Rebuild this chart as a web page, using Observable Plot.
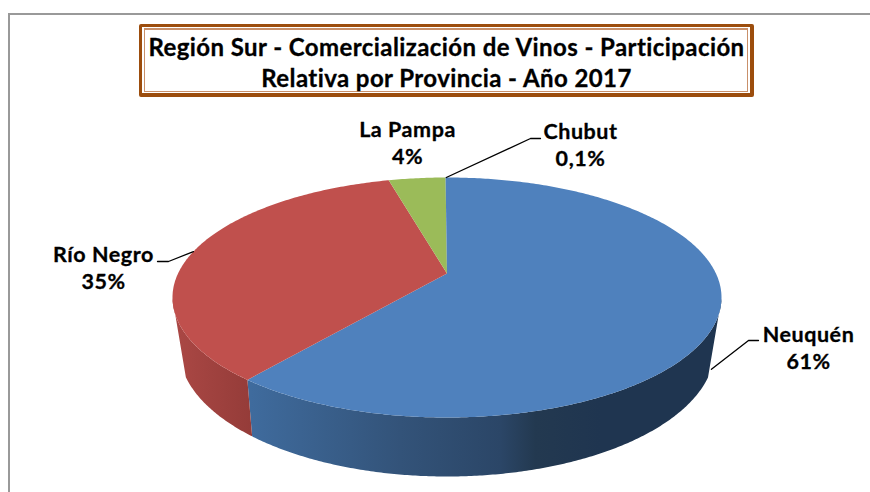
<!DOCTYPE html>
<html lang="es">
<head>
<meta charset="utf-8">
<style>
html,body{margin:0;padding:0;background:#fff;width:870px;height:492px;overflow:hidden}
#wrap{position:relative;width:870px;height:492px;overflow:hidden}
#wrap svg{position:absolute;left:0;top:0;background:transparent}
#frame{position:absolute;left:8px;top:13px;width:900px;height:520px;border-left:2px solid #999;border-top:2px solid #999}
#box{position:absolute;left:139px;top:24px;width:615px;height:73px;box-sizing:border-box;border:3px solid #9c4d0d;border-right-width:4px;border-bottom-width:4px;border-radius:2px;background:#fff}
#box i{position:absolute;left:2px;top:1px;right:2px;bottom:1px;border:1px solid #c9906a;border-top-width:2px}
#title{position:absolute;left:139px;top:31px;width:615px;text-align:center;font:700 24px/31px Lato,"Open Sans",sans-serif;color:#000;letter-spacing:.42px;-webkit-text-stroke:.3px #000}
</style>
</head>
<body>
<div id="wrap">
  <div id="frame"></div>
  <div id="box"><i></i></div>
  <div id="title">Región Sur - Comercialización de Vinos - Participación<br>Relativa por Provincia - Año 2017</div>
</div>
<script src="https://cdn.jsdelivr.net/npm/d3@7"></script>
<script src="https://cdn.jsdelivr.net/npm/@observablehq/plot@0.6"></script>
<script>
// Data, clockwise from the top of the pie
const provinces = ["Neuquén", "Río Negro", "La Pampa", "Chubut"];
const shares = [61, 35, 4, 0.1];
const shareLabels = ["61%", "35%", "4%", "0,1%"];
const topColors = ["#4F81BD", "#C0504D", "#9BBB59", "#4F81BD"];

// Pie layout (tilted disc with perspective)
const W = 870, H = 492;
const top3d = {cx: 446.5, cy: 297, rx: 274.5, ry: 120, apexY: 273};
const bottom3d = {cx: 446.5, cy: 348, rx: 268, ry: 128};
const perspective = 0.83;
const tangentTop = 0, tangentBottom = -0.218; // where the wall's side silhouette meets each rim

// Label layout
const labelPos = {
  "Neuquén": {x: 808, y: 346},
  "Río Negro": {x: 103, y: 266},
  "La Pampa": {x: 407, y: 141},
  "Chubut": {x: 580, y: 143}
};
const leaders = {
  "Neuquén": {wall: 1, elbow: [748, 340], end: [758, 340]},
  "Río Negro": {wall: 0, elbow: [168, 261], end: [157, 261]},
  "Chubut": {wall: 0, elbow: [530, 138], end: [540, 138]}
};

// Wall shading, left to right
const wallShades = {
  "Neuquén": {id: "wall-blue", x: [250, 400, 500, 535, 600], c: ["#3f6b9d", "#335379", "#2b4667", "#233950", "#1f3550"]},
  "Río Negro": {id: "wall-red", x: [172, 250], c: ["#ab4845", "#953c39"]}
};

const total = d3.sum(shares);
const warp = a => {
  const t = 2 * Math.atan(perspective * Math.tan(a / 2));
  return t < 0 ? t + 2 * Math.PI : t;
};
const onTop = t => [top3d.cx + top3d.rx * Math.sin(t), top3d.cy - top3d.ry * Math.cos(t)];
const onBottom = t => [bottom3d.cx + bottom3d.rx * Math.sin(t), bottom3d.cy - bottom3d.ry * Math.cos(t)];

let acc = 0;
const slices = provinces.map((name, i) => {
  const a0 = acc / total * 2 * Math.PI;
  acc += shares[i];
  const a1 = acc / total * 2 * Math.PI;
  return {name, i, a0, a1, t0: warp(a0), t1: a1 >= 2 * Math.PI - 1e-9 ? 2 * Math.PI : warp(a1), tm: warp((a0 + a1) / 2)};
});
const arc = s => d3.range(s.t0, s.t1, 0.01).concat(s.t1);

// Top faces
const topPts = [];
for (const s of slices) {
  topPts.push({id: s.name, c: topColors[s.i], x: top3d.cx, y: top3d.apexY});
  for (const t of arc(s)) {
    const [x, y] = onTop(t);
    topPts.push({id: s.name, c: topColors[s.i], x, y});
  }
}

// Side walls: the front of each slice's rim, top edge then bottom edge back
const wallPts = [];
for (const s of slices) {
  const shade = wallShades[s.name];
  if (!shade) continue;
  const upper = arc(s).filter(t => Math.cos(t) <= tangentTop);
  const lower = arc(s).filter(t => Math.cos(t) <= tangentBottom).reverse();
  const outline = upper.map(onTop).concat(lower.map(onBottom));
  for (const [x, y] of outline) wallPts.push({id: s.name, x, y});
}

// Leader lines start from the middle of each slice
const leaderPts = [];
for (const s of slices) {
  const l = leaders[s.name];
  if (!l) continue;
  const a = onTop(s.tm), b = onBottom(s.tm);
  const start = [a[0] + (b[0] - a[0]) * l.wall, a[1] + (b[1] - a[1]) * l.wall];
  for (const [x, y] of [start, l.elbow, l.end]) leaderPts.push({id: s.name, x, y});
}

const labels = slices.map(s => ({
  text: s.name + "\n" + shareLabels[s.i],
  x: labelPos[s.name].x,
  y: labelPos[s.name].y
}));

// Gradient definitions used by the wall fills
function gradients() {
  const defs = d3.create("svg:defs");
  for (const shade of Object.values(wallShades)) {
    const g = defs.append("linearGradient")
      .attr("id", shade.id)
      .attr("gradientUnits", "userSpaceOnUse")
      .attr("x1", shade.x[0]).attr("x2", shade.x[shade.x.length - 1])
      .attr("y1", 0).attr("y2", 0);
    shade.x.forEach((x, i) => g.append("stop")
      .attr("offset", (x - shade.x[0]) / (shade.x[shade.x.length - 1] - shade.x[0]))
      .attr("stop-color", shade.c[i]));
  }
  return defs.node();
}

const chart = Plot.plot({
  width: W, height: H,
  margin: 0,
  x: {domain: [0, W], range: [0, W], axis: null},
  y: {domain: [0, H], range: [0, H], axis: null},
  style: {background: "transparent", overflow: "visible", letterSpacing: "0.55px"},
  marks: [
    gradients,
    ...Object.keys(wallShades).map(name =>
      Plot.line(wallPts.filter(d => d.id === name), {x: "x", y: "y", fill: `url(#${wallShades[name].id})`, stroke: "none", curve: "linear-closed"})),
    ...slices.map(s =>
      Plot.line(topPts.filter(d => d.id === s.name), {x: "x", y: "y", fill: topColors[s.i], stroke: "none", curve: "linear-closed"})),
    Plot.line(leaderPts, {x: "x", y: "y", z: "id", stroke: "#000", strokeWidth: 1.3, curve: "linear"}),
    Plot.text(labels, {x: "x", y: "y", text: "text", fontFamily: "Lato, 'Open Sans', sans-serif", fontWeight: 700, fontSize: 21.5, lineHeight: 1.28, fill: "#000", stroke: "#000", strokeWidth: 0.3, textAnchor: "middle"})
  ]
});
document.getElementById("wrap").insertBefore(chart, document.getElementById("frame").nextSibling);
</script>
</body>
</html>
